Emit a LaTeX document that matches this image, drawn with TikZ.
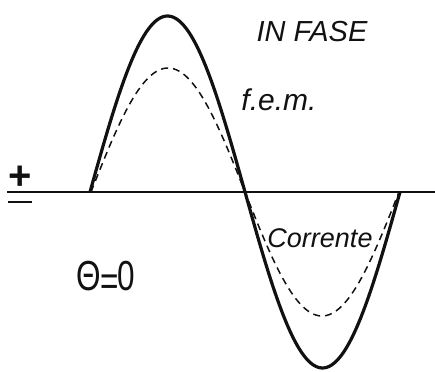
\documentclass[tikz,border=0pt]{standalone}
\usepackage{fontspec}
\setmainfont{Liberation Sans}
\usetikzlibrary{positioning}
\definecolor{Ink}{HTML}{111111}

\begin{document}
\begin{tikzpicture}[x=1pt,y=1pt,
    lbl/.style={Ink,inner sep=0pt,font=\itshape}]
        \useasboundingbox(0,-179)rectangle(435,192);
        \draw[line width=1.4pt,Ink](7,0)--(435,0);
        \draw[line width=3.2pt,Ink,domain=90:400,samples=120,smooth]plot(\x,{176*sin((\x-90)/155*180)});
        \draw[line width=1.5pt,Ink,dash pattern=on 7pt off 5pt,domain=91:399,samples=120,smooth]plot(\x,{124*sin((\x-91)/154*180)});
        \node[lbl,font=\fontsize{29}{30}\selectfont\itshape](fase)at(312,160){IN FASE};
        \node[lbl,font=\fontsize{30}{31}\selectfont\itshape](fem)at(279,92){f.e.m.};
        \node[lbl,font=\fontsize{27}{28}\selectfont\itshape](corr)at(320,-46){Corrente};
        \node[lbl,font=\fontsize{42}{43}\selectfont](theta)at(106,-86){\scalebox{.75}[1]{Θ\kern-1pt\raisebox{-5pt}{=}\kern-1pt0}};
        \node[lbl,font=\fontsize{40}{41}\selectfont\bfseries](plus)at(20,14){+};
        \draw[line width=2.8pt,Ink](8,-10)--(32,-10);
      \end{tikzpicture}
\end{document}
